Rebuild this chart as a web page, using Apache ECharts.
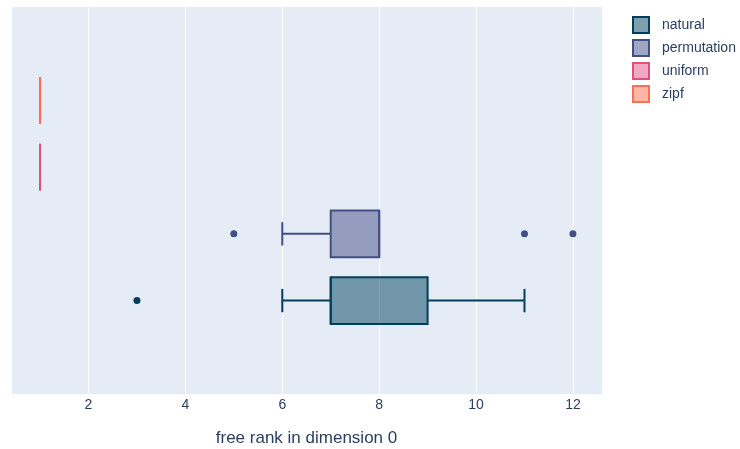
<!DOCTYPE html>
<html>
<head>
<meta charset="utf-8">
<script src="https://cdn.jsdelivr.net/npm/echarts@6/dist/echarts.min.js"></script>
<style>
  html, body { margin: 0; padding: 0; background: #fff; }
  #chart { width: 740px; height: 449px; }
</style>
</head>
<body>
<div id="chart"></div>
<script>
// 数据
var categories = ['natural', 'permutation', 'uniform', 'zipf'];
var lowWhisker = [6, 6, 1, 1];
var q1 = [7, 7, 1, 1];
var median = [7, 8, 1, 1];
var q3 = [9, 8, 1, 1];
var highWhisker = [11, 8, 1, 1];
var outliers = [[3], [5, 11, 12], [], []];
var colors = ['#003f5c', '#444e86', '#dd5182', '#ff6e54'];
var fills = ['rgba(0,63,92,0.5)', 'rgba(68,78,134,0.5)', 'rgba(221,81,130,0.5)', 'rgba(255,110,84,0.5)'];

var fontFamily = '"Liberation Sans", Arial, sans-serif';
var textColor = '#2a3f5f';

function makeRender(i) {
    return function (params, api) {
        var y = api.value(0);
        var lw = api.value(1), a = api.value(2), m = api.value(3), b = api.value(4), hw = api.value(5);
        var half = 0.35, cap = 0.175;
        var pA = api.coord([a, y + half]);
        var pB = api.coord([b, y - half]);
        var mid = api.coord([a, y])[1];
        var lineStyle = { stroke: colors[i], lineWidth: 2, fill: null };
        var children = [
            // 须线
            { type: 'line', shape: { x1: api.coord([lw, y])[0], y1: mid, x2: pA[0], y2: mid }, style: lineStyle },
            { type: 'line', shape: { x1: pB[0], y1: mid, x2: api.coord([hw, y])[0], y2: mid }, style: lineStyle },
            { type: 'rect', shape: { x: pA[0], y: pA[1], width: pB[0] - pA[0], height: pB[1] - pA[1] },
              style: { fill: fills[i], stroke: colors[i], lineWidth: 2 } },
            { type: 'line', shape: { x1: api.coord([m, y])[0], y1: pA[1], x2: api.coord([m, y])[0], y2: pB[1] }, style: lineStyle }
        ];
        if (lw < a) {
            var xl = api.coord([lw, y])[0];
            children.push({ type: 'line', shape: { x1: xl, y1: api.coord([lw, y + cap])[1], x2: xl, y2: api.coord([lw, y - cap])[1] }, style: lineStyle });
        }
        if (hw > b) {
            var xh = api.coord([hw, y])[0];
            children.push({ type: 'line', shape: { x1: xh, y1: api.coord([hw, y + cap])[1], x2: xh, y2: api.coord([hw, y - cap])[1] }, style: lineStyle });
        }
        return { type: 'group', children: children };
    };
}

var series = [];
var legendData = [];
categories.forEach(function (name, i) {
    series.push({
        name: name,
        type: 'custom',
        renderItem: makeRender(i),
        itemStyle: { color: fills[i], borderColor: colors[i], borderWidth: 2 },
        encode: { x: [1, 2, 3, 4, 5], y: 0 },
        data: [[i, lowWhisker[i], q1[i], median[i], q3[i], highWhisker[i]]],
        z: 2
    });
    if (outliers[i].length) {
        series.push({
            name: name,
            type: 'scatter',
            symbolSize: 7,
            itemStyle: { color: colors[i], opacity: 1 },
            data: outliers[i].map(function (v) { return [v, i]; }),
            z: 3
        });
    }
    legendData.push({
        name: name,
        icon: 'rect',
        itemStyle: { color: fills[i], borderColor: colors[i], borderWidth: 2 }
    });
});

var option = {
    animation: false,
    legend: {
        data: legendData,
        orient: 'vertical',
        left: 627,
        top: 11,
        itemWidth: 16,
        itemHeight: 16,
        itemGap: 5,
        textStyle: { fontFamily: fontFamily, fontSize: 14, color: textColor, padding: [0, 0, 0, 8] }
    },
    grid: {
        left: 11,
        right: 138,
        top: 7,
        bottom: 55,
        outerBoundsMode: 'none',
        show: true,
        backgroundColor: '#e5ecf6',
        borderWidth: 0
    },
    xAxis: {
        type: 'value',
        min: 0.4,
        max: 12.6,
        name: 'free rank in dimension 0',
        nameLocation: 'middle',
        nameGap: 36,
        nameTextStyle: { fontFamily: fontFamily, fontSize: 17, color: textColor },
        axisLine: { show: false },
        axisTick: { show: false },
        axisLabel: { showMinLabel: false, showMaxLabel: false, margin: 4,
                     fontFamily: fontFamily, fontSize: 14, color: textColor },
        splitLine: { show: true, lineStyle: { color: '#ffffff', width: 1 } }
    },
    yAxis: {
        type: 'value',
        min: -1.4,
        max: 4.4,
        show: false
    },
    series: series
};

var myChart = echarts.init(document.getElementById('chart'));
myChart.setOption(option);
</script>
</body>
</html>
